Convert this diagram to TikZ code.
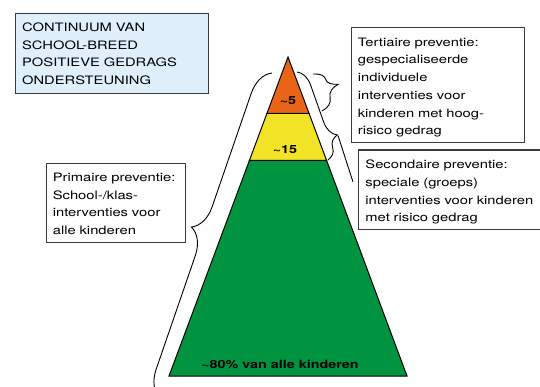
\documentclass[tikz,border=0pt]{standalone}
\usepackage{fontspec}
\setmainfont{TeX Gyre Heros}[FakeStretch=1.27]
\usetikzlibrary{decorations.pathreplacing,calc}
\definecolor{orangeC}{HTML}{E96414}
\definecolor{yellowC}{HTML}{F2E327}
\definecolor{greenC}{HTML}{009440}
\definecolor{titleblue}{HTML}{DFF0FC}
\definecolor{boxgray}{HTML}{3A3A3A}
\newcommand\Lr[1]{\mbox{#1}}
\tikzset{
  infobox/.style={draw=boxgray, line width=1.1pt, fill=white, inner xsep=6.6pt, inner ysep=0pt,
    align=left, anchor=north west, font=\fontsize{11.6}{17.7}\selectfont},
  pyrlabel/.style={anchor=base, inner sep=0pt, font=\fontsize{11.3}{13}\selectfont\bfseries},
  layer/.style={draw=black, line width=1pt, line join=miter},
  bracestyle/.style={draw=black, line width=0.9pt, decorate},
  leader/.style={draw=black, line width=0.9pt}
}
\begin{document}
\begin{tikzpicture}[x=1pt,y=-1pt]
\useasboundingbox (0,0) rectangle (540,387);
\clip (0,0) rectangle (540,387);
% pyramid
\coordinate (apex) at (288,57);
\coordinate (bl) at (169,376);
\coordinate (br) at (407,376);
\coordinate (oyl) at (266.9,113.5);
\coordinate (oyr) at (309.1,113.5);
\coordinate (ygl) at (249.4,160.5);
\coordinate (ygr) at (326.6,160.5);
\path[layer, fill=greenC] (ygl) -- (ygr) -- (br) -- (bl) -- cycle;
\path[layer, fill=yellowC] (oyl) -- (oyr) -- (ygr) -- (ygl) -- cycle;
\path[layer, fill=orangeC] (apex) -- (oyr) -- (oyl) -- cycle;
\node[pyrlabel] (l5) at (288,105) {\textasciitilde5};
\node[pyrlabel] (l15) at (285,154) {\textasciitilde15};
\node[pyrlabel] (l80) at (280,368.3) {\textasciitilde80\% van alle kinderen};
% boxes
\node[infobox, fill=titleblue, text width=179.8pt, text height=18.3pt, text depth=62.1pt] (title) at (15,12.7)
  {\Lr{CONTINUUM VAN}\\\Lr{SCHOOL-BREED}\\\Lr{POSITIEVE GEDRAGS}\\\Lr{ONDERSTEUNING}};
\node[infobox, text width=160.4pt, text height=19pt, text depth=96pt] (tert) at (350.7,26.7)
  {\Lr{Tertiaire preventie:}\\\Lr{gespecialiseerde}\\\Lr{individuele}\\\Lr{interventies voor}\\\Lr{kinderen met hoog-}\\\Lr{risico gedrag}};
\node[infobox, text width=176.8pt, text height=18.7pt, text depth=60.3pt] (sec) at (358.3,149.5)
  {\Lr{Secondaire preventie:}\\\Lr{speciale (groeps)}\\\Lr{interventies voor kinderen}\\\Lr{met risico gedrag}};
\node[infobox, text width=126.1pt, text height=18.3pt, text depth=60.7pt] (prim) at (45.7,162.7)
  {\Lr{Primaire preventie:}\\\Lr{School-/klas-}\\\Lr{interventies voor}\\\Lr{alle kinderen}};
% braces
\coordinate (pB) at (160,398);
\coordinate (pT) at (272,73);
\draw[bracestyle, decoration={brace, amplitude=26pt, aspect=0.5}] (pB) -- (pT);
\coordinate (tT) at (313,74);
\coordinate (tB) at (322,111);
\draw[bracestyle, decoration={brace, amplitude=22pt, aspect=0.42}] (tT) -- (tB);
\coordinate (sT) at (297,72);
\coordinate (sB) at (328,160);
\draw[bracestyle, decoration={brace, amplitude=17pt, aspect=0.78}] (sT) -- (sB);
\coordinate (secTip) at (338,135.5);
\coordinate (secLead) at (353,182);
\draw[leader] (secTip) -- (secLead);
\end{tikzpicture}
\end{document}
